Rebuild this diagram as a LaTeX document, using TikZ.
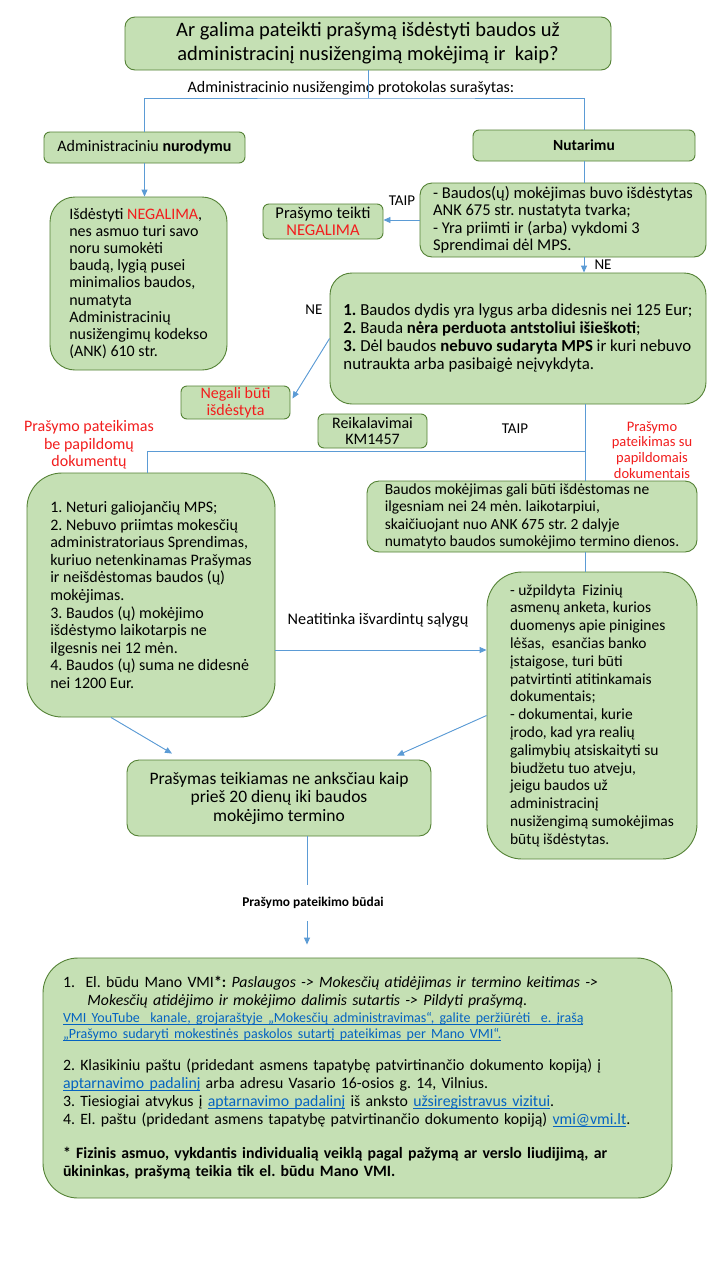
\documentclass[tikz,border=0pt]{standalone}
\usepackage{fontspec}
\setmainfont{Carlito}
\usetikzlibrary{arrows.meta,calc}
\definecolor{boxfill}{HTML}{C5E0B4}
\definecolor{boxline}{HTML}{548235}
\definecolor{lineblue}{HTML}{5B9BD5}
\definecolor{negred}{HTML}{F21D1D}
\definecolor{linkblue}{HTML}{0563C1}
\newcommand{\fs}[2]{\fontsize{#1}{#2}\selectfont}
\newcommand{\lnk}[1]{\textcolor{linkblue}{\setbox0\hbox{#1}\rlap{\rule[-2.2pt]{\wd0}{0.6pt}}\box0}}
\newcommand{\rd}[1]{\textcolor{negred}{#1}}
\frenchspacing
\begin{document}
\begin{tikzpicture}[x=1pt,y=-1pt,
  box/.style={draw=boxline, fill=boxfill, line width=0.9pt, rounded corners=#1, inner sep=0pt},
  box/.default=6pt,
  link/.style={draw=lineblue, line width=0.9pt},
  arr/.style={link, -{Triangle[length=7pt,width=6pt]}, fill=lineblue},
  lbl/.style={inner sep=0pt, align=center}]
\fill[white] (0,0) rectangle (720,1280);
\useasboundingbox (0,0) rectangle (720,1280);

% boxes
\node[box=10pt, minimum width=486pt, minimum height=53pt, align=center, font=\fs{20.5}{24}] (title) at (368,43.5)
  {Ar galima pateikti prašymą išdėstyti baudos už\\ administracinį nusižengimą mokėjimą ir\ \ kaip?};
\node[lbl, font=\fs{16}{17}] (proto) at (351,88) {Administracinio nusižengimo protokolas surašytas:};

\node[box, minimum width=201pt, minimum height=31pt, font=\fs{16}{18}] (adm) at (144.5,147.5)
  {Administraciniu \textbf{nurodymu}};
\node[box, minimum width=222pt, minimum height=31pt, font=\fs{15.5}{18}] (nut) at (584,145.5)
  {\textbf{Nutarimu}};

\node[box=25pt, minimum width=177pt, minimum height=173pt, align=left, font=\fs{16}{17.2}] (neg1) at (138.5,283.5)
  {Išdėstyti \rd{NEGALIMA},\\ nes asmuo turi savo\\ noru sumokėti\\ baudą, lygią pusei\\ minimalios baudos,\\ numatyta\\ Administracinių\\ nusižengimų kodekso\\ (ANK) 610 str.};

\node[box=12pt, minimum width=286pt, minimum height=74pt, align=left, font=\fs{16.5}{17.5}] (cond1) at (563,220)
  {- Baudos(ų) mokėjimas buvo išdėstytas\\ ANK 675 str. nustatyta tvarka;\\ - Yra priimti ir (arba) vykdomi 3\\ Sprendimai dėl MPS.};

\node[box, minimum width=120pt, minimum height=35pt, align=center, font=\fs{16.5}{17}] (pt) at (323,221.5)
  {Prašymo teikti\\ \rd{NEGALIMA}};
\node[lbl, font=\fs{15}{16}] (taip1) at (402,201) {TAIP};
\node[lbl, font=\fs{15}{16}] (ne1) at (603,265) {NE};

\node[box=22pt, minimum width=376pt, minimum height=131pt, align=left, font=\fs{16.8}{18}] (big) at (518,338.5)
  {\textbf{1.} Baudos dydis yra lygus arba didesnis nei 125 Eur;\\ \textbf{2.} Bauda \textbf{nėra perduota antstoliui išieškoti};\\ \textbf{3.} Dėl baudos \textbf{nebuvo sudaryta MPS} ir kuri nebuvo\\ nutraukta arba pasibaigė neįvykdyta.};
\node[lbl, font=\fs{15}{16}] (ne2) at (314,310) {NE};

\node[box, minimum width=109pt, minimum height=33pt, align=center, font=\fs{16}{16.5}] (negali) at (235.5,402.5)
  {\rd{Negali būti}\\ \rd{išdėstyta}};
\node[box, minimum width=109pt, minimum height=34pt, align=center, font=\fs{16}{16.5}] (reik) at (372.5,431)
  {Reikalavimai\\ KM1457};
\node[lbl, font=\fs{15}{16}] (taip2) at (515,429) {TAIP};

\node[lbl, font=\fs{16}{17.5}, text=negred] (redL) at (89,445)
  {Prašymo pateikimas\\ be papildomų\\ dokumentų};
\node[lbl, font=\fs{14.5}{15.8}, text=negred] (redR) at (652,450)
  {Prašymo\\ pateikimas su\\ papildomais\\ dokumentais};

\node[box=12pt, minimum width=330pt, minimum height=71pt, align=left, font=\fs{15.5}{17.5}] (baud) at (532,516.5)
  {Baudos mokėjimas gali būti išdėstomas ne\\ ilgesniam nei 24 mėn. laikotarpiui,\\ skaičiuojant nuo ANK 675 str. 2 dalyje\\ numatyto baudos sumokėjimo termino dienos.};

\node[box=35pt, minimum width=248pt, minimum height=244pt, align=left, font=\fs{16}{17.6}] (lb) at (151,595)
  {1. Neturi galiojančių MPS;\\ 2. Nebuvo priimtas mokesčių\\ administratoriaus Sprendimas,\\ kuriuo netenkinamas Prašymas\\ ir neišdėstomas baudos (ų)\\ mokėjimas.\\ 3. Baudos (ų) mokėjimo\\ išdėstymo laikotarpis ne\\ ilgesnis nei 12 mėn.\\ 4. Baudos (ų) suma ne didesnė\\ nei 1200 Eur.};

\node[box=35pt, minimum width=210pt, minimum height=287pt, align=left, font=\fs{15.5}{17.8}] (rb) at (592,715.5)
  {- užpildyta\ \ Fizinių\\ asmenų anketa, kurios\\ duomenys apie pinigines\\ lėšas,\ \ esančias banko\\ įstaigose, turi būti\\ patvirtinti atitinkamais\\ dokumentais;\\ - dokumentai, kurie\\ įrodo, kad yra realių\\ galimybių atsiskaityti su\\ biudžetu tuo atveju,\\ jeigu baudos už\\ administracinį\\ nusižengimą sumokėjimas\\ būtų išdėstytas.};

\node[lbl, font=\fs{16.2}{16}] (neat) at (378,620) {Neatitinka išvardintų sąlygų};

\node[box=12pt, minimum width=304pt, minimum height=76pt, align=center, font=\fs{17.5}{18.5}] (pr) at (279,798)
  {Prašymas teikiamas ne anksčiau kaip\\ prieš 20 dienų iki baudos\\ mokėjimo termino};

\node[lbl, font=\fs{13.4}{14}\bfseries, minimum height=36pt] (way) at (313,903) {Prašymo pateikimo būdai};

\node[box=35pt, minimum width=629pt, minimum height=240pt, align=left, text width=589pt, font=\fs{15.8}{18}] (bot) at (357.5,1078)
  {1.\ \ El. būdu Mano VMI\textbf{*:} \textit{Paslaugos -> Mokesčių atidėjimas ir termino keitimas ->}\\
   \hspace*{1.55em}\textit{Mokesčių atidėjimo ir mokėjimo dalimis sutartis -> Pildyti prašymą.}\\[-1pt]
   {\fs{14}{15}\lnk{VMI YouTube\ \ kanale, grojaraštyje „Mokesčių administravimas“, galite peržiūrėti\ \ e. įrašą}}\\[-2pt]
   {\fs{14}{15}\lnk{„Prašymo sudaryti mokestinės paskolos sutartį pateikimas per Mano VMI“.}}\\[14pt]
   2. Klasikiniu paštu (pridedant asmens tapatybę patvirtinančio dokumento kopiją) į\\
   \lnk{aptarnavimo padalinį} arba adresu Vasario 16-osios g. 14, Vilnius.\\
   3. Tiesiogiai atvykus į \lnk{aptarnavimo padalinį} iš anksto \lnk{užsiregistravus vizitui}.\\
   4. El. paštu (pridedant asmens tapatybę patvirtinančio dokumento kopiją) \lnk{vmi@vmi.lt}.\\[16pt]
   \textbf{* Fizinis asmuo, vykdantis individualią veiklą pagal pažymą ar verslo liudijimą, ar}\\
   \textbf{ūkininkas, prašymą teikia tik el. būdu Mano VMI.}};

% connectors
\coordinate (jT) at (368,98);
\coordinate (jB) at (585,451);
\coordinate (yA) at (0,650);
\draw[link] (title.south) -- (jT);
\draw[link] (adm.north) |- (jT) -| (nut.north);
\draw[arr] (adm.south) -- (adm.south |- neg1.north);
\draw[link] (nut.south) -- (nut.south |- cond1.north);
\draw[arr] (cond1.west) -- (cond1.west -| pt.east);
\draw[arr] (nut.south |- cond1.south) -- (nut.south |- big.north);
\draw[arr] (big.west) -- ([xshift=2pt,yshift=4pt]negali.east);
\draw[link] (jB |- big.south) -- (jB |- baud.north);
\draw[link] (jB) -| ([xshift=-4pt]lb.north);
\draw[link] (jB |- baud.south) -- (jB |- rb.north);
\draw[arr] (lb.east |- yA) -- (rb.west |- yA);
\draw[arr] ([xshift=-40pt]lb.south) -- ([xshift=-107pt,yshift=6pt]pr.north);
\draw[arr] (rb.west) -- ([xshift=118pt,yshift=4pt]pr.north);
\draw[link] ([xshift=28pt]pr.south) -- ([xshift=-6pt]way.north);
\draw[arr, shorten >=13pt] ([xshift=-6pt]way.south) -- ([xshift=-6pt]way.south |- bot.north);
\end{tikzpicture}
\end{document}
